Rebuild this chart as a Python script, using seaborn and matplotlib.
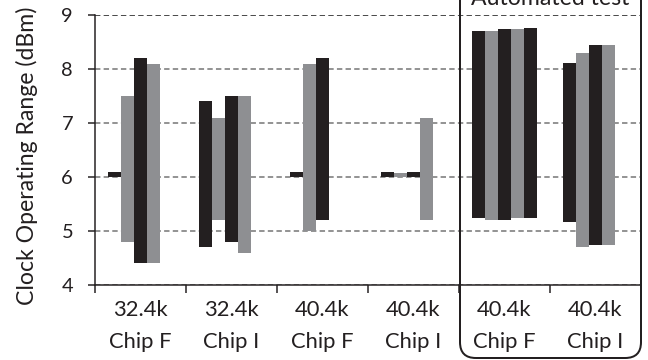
import numpy as np
import pandas as pd
import matplotlib
matplotlib.use("Agg")
import matplotlib.pyplot as plt
from matplotlib.patches import FancyBboxPatch
import seaborn as sns

# data (low / high of each range bar, dBm)
groups = ["32.4k Chip F", "32.4k Chip I", "40.4k Chip F", "40.4k Chip I",
          "40.4k Chip F auto", "40.4k Chip I auto"]
tick_labels = ["32.4k\nChip F", "32.4k\nChip I", "40.4k\nChip F", "40.4k\nChip I",
               "40.4k\nChip F", "40.4k\nChip I"]
lows = [
    [6.0, 4.8, 4.4, 4.4],
    [4.7, 5.2, 4.8, 4.6],
    [6.0, 5.0, 5.2],
    [6.0, 6.0, 6.0, 5.2],
    [5.25, 5.2, 5.2, 5.25, 5.24],
    [5.17, 4.7, 4.75, 4.75],
]
highs = [
    [6.1, 7.5, 8.2, 8.1],
    [7.4, 7.1, 7.5, 7.5],
    [6.1, 8.1, 8.2],
    [6.1, 6.07, 6.1, 7.1],
    [8.7, 8.7, 8.75, 8.75, 8.75],
    [8.12, 8.3, 8.45, 8.45],
]
slots = ["s0", "s1", "s2", "s3", "s4"]

BLACK = "#231f20"
GRAY = "#8e8f92"
palette = {"s0": BLACK, "s1": GRAY, "s2": BLACK, "s3": GRAY, "s4": BLACK}
FS_X = 22
FS_Y = 20
FS_LAB = 23

rows = []
for g, lo, hi in zip(groups, lows, highs):
    for i, (a, b) in enumerate(zip(lo, hi)):
        rows.append({"group": g, "slot": slots[i], "low": a, "span": b - a})
df = pd.DataFrame(rows)

sns.set_style("white")
plt.rcParams["font.family"] = ["Lato", "DejaVu Sans"]

fig = plt.figure(figsize=(9, 5), dpi=72)
ax = fig.add_axes([95 / 648, 75 / 360, 546 / 648, 270 / 360])

WIDTH = 0.72
sns.barplot(data=df, x="group", y="span", hue="slot", order=groups,
            hue_order=slots, palette=palette, width=WIDTH, gap=0,
            errorbar=None, saturation=1, legend=False, linewidth=0, ax=ax)

# lift every bar to its low value
step = WIDTH / len(slots)
for p in ax.patches:
    xc = p.get_x() + p.get_width() / 2
    gi = int(round(xc))
    si = int(round((xc - gi) / step + (len(slots) - 1) / 2))
    p.set_y(lows[gi][si])

ax.set_ylim(4, 9)
ax.set_xlim(-0.5, len(groups) - 0.5)
ax.set_yticks(np.arange(4, 10, 1))
ax.set_xticks(np.arange(-0.5, len(groups), 1))
ax.set_xticklabels([])
ax.set_xticks(np.arange(len(groups)), minor=True)
ax.set_xticklabels(tick_labels, minor=True, fontsize=FS_X, color=BLACK,
                   linespacing=1.72)
ax.tick_params(axis="x", which="major", length=8, width=1.5, color=BLACK,
               direction="out", bottom=True)
ax.tick_params(axis="x", which="minor", length=0, pad=15)
ax.tick_params(axis="y", length=7, width=1.5, color=BLACK, direction="out",
               left=True, pad=15, labelsize=FS_Y, labelcolor=BLACK)
ax.set_xlabel("")
ax.set_ylabel("Clock Operating Range (dBm)", fontsize=FS_LAB, color=BLACK)
ax.yaxis.set_label_coords(-0.104, 0.48)

ax.set_axisbelow(True)
ax.yaxis.grid(True, color="#8a8a8a", lw=1.8, ls=(0, (3, 1.8)))
ax.yaxis.get_gridlines()[-1].set_color("#3a3a3a")
for s in ["top", "right"]:
    ax.spines[s].set_visible(False)
for s in ["left", "bottom"]:
    ax.spines[s].set_color(BLACK)
    ax.spines[s].set_linewidth(1.5)

# rounded box around the automated test groups
box = FancyBboxPatch((460 / 72, 2 / 72), 181 / 72, 400 / 72,
                     boxstyle="round,pad=0,rounding_size=0.22",
                     transform=fig.dpi_scale_trans, fill=False,
                     edgecolor=BLACK, lw=2, clip_on=False)
fig.add_artist(box)
fig.text(550 / 648, 1 - 5 / 360, "Automated test", ha="center",
         va="baseline", fontsize=FS_LAB, color=BLACK)

fig.savefig("out.png", dpi=72)
